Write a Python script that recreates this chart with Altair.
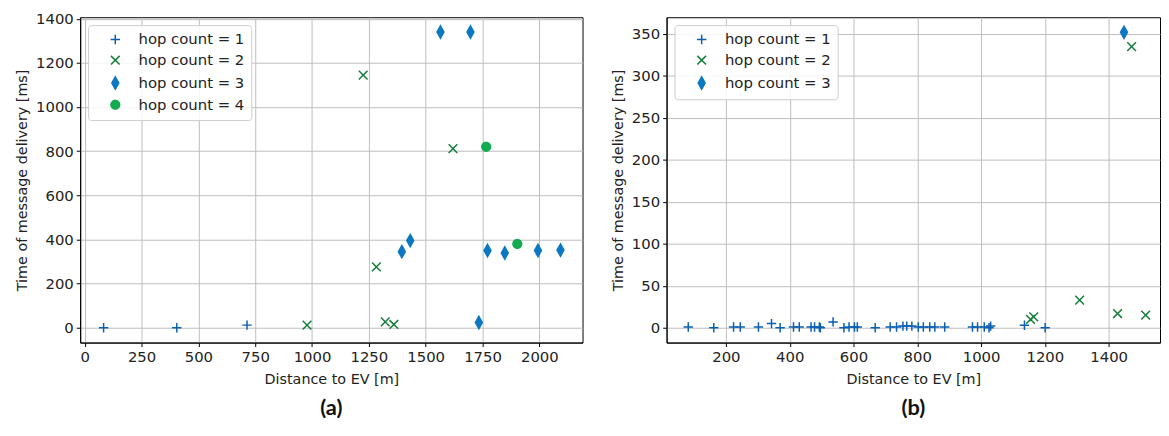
import math
import altair as alt
import pandas as pd

# ---------------- data ----------------
# Panel (a)
a_h1_x = [83, 405, 714]
a_h1_y = [0, 0, 12]
a_h2_x = [978, 1225, 1283, 1322, 1360, 1620]
a_h2_y = [12, 1145, 276, 27, 15, 812]
a_h3_x = [1395, 1432, 1565, 1697, 1734, 1772, 1848, 1994, 2093]
a_h3_y = [345, 395, 1340, 1340, 24, 350, 339, 350, 352]
a_h4_x = [1766, 1903]
a_h4_y = [820, 380]

# Panel (b)
b_h1_x = [82, 162, 224, 245, 302, 343, 370, 412, 430, 467, 478, 493, 496, 536,
          570, 586, 603, 612, 668, 715, 735, 755, 767, 783, 803, 819, 839, 855,
          886, 973, 989, 1010, 1025, 1030, 1136, 1201]
b_h1_y = [1, 0, 1, 1, 1, 5, 0, 1, 1, 1, 1, 1, 0, 7, 0, 1, 1, 1, 0, 1, 1, 2, 2, 2,
          1, 1, 1, 1, 1, 1, 1, 1, 0, 2, 3, 0]
b_h2_x = [1155, 1165, 1309, 1428, 1472, 1516]
b_h2_y = [10, 13, 33, 17, 335, 15]
b_h3_x = [1448]
b_h3_y = [352]

a_xticks = [0, 250, 500, 750, 1000, 1250, 1500, 1750, 2000]
a_yticks = [0, 200, 400, 600, 800, 1000, 1200, 1400]
b_xticks = [200, 400, 600, 800, 1000, 1200, 1400]
b_yticks = [0, 50, 100, 150, 200, 250, 300, 350]


def frame(series):
    rows = []
    for hop, xs, ys in series:
        for x, y in zip(xs, ys):
            rows.append({"hop": hop, "dist": x, "time": y})
    return pd.DataFrame(rows)


df_a = frame([("1", a_h1_x, a_h1_y), ("2", a_h2_x, a_h2_y),
              ("3", a_h3_x, a_h3_y), ("4", a_h4_x, a_h4_y)])
df_b = frame([("1", b_h1_x, b_h1_y), ("2", b_h2_x, b_h2_y), ("3", b_h3_x, b_h3_y)])

# ---------------- styles ----------------
STROKES = ["#0a5fb4", "#147d3a", "#0b78c1", "#13ab50"]
FILLS = ["transparent", "transparent", "#0b78c1", "#13ab50"]
PLUS = "M-0.95,0L0.95,0M0,-0.95L0,0.95"
XMARK = "M-0.88,-0.88L0.88,0.88M-0.88,0.88L0.88,-0.88"
DIAMOND = "M0,-1.25L0.7,0L0,1.25L-0.7,0Z"
_r = 0.88
CIRCLE = "M" + "L".join(
    f"{_r * math.cos(2 * math.pi * k / 32):.3f},{_r * math.sin(2 * math.pi * k / 32):.3f}"
    for k in range(32)) + "Z"
SHAPES = [PLUS, XMARK, DIAMOND, CIRCLE]

FONT = "DejaVu Sans"


def panel(df, cats, xdom, ydom, xticks, yticks, caption, w, h):
    n = len(cats)
    leg = alt.Legend(
        title=None,
        orient="top-left",
        offset=8,
        labelExpr="'hop count = ' + datum.label",
        labelFont=FONT,
        labelFontSize=15,
        labelColor="#222",
        labelOffset=16,
        symbolOffset=13,
        symbolSize=100,
        symbolStrokeWidth=1.5,
        rowPadding=5,
        padding=7,
        fillColor="rgba(255,255,255,0.85)",
        strokeColor="#cccccc",
        cornerRadius=3,
    )
    return alt.Chart(df).mark_point(
        opacity=1, strokeWidth=1.5, size=100, filled=False
    ).encode(
        x=alt.X("dist:Q",
                scale=alt.Scale(domain=xdom, nice=False, zero=False),
                axis=alt.Axis(values=xticks, format="d", title="Distance to EV [m]",
                              titlePadding=8)),
        y=alt.Y("time:Q",
                scale=alt.Scale(domain=ydom, nice=False, zero=False),
                axis=alt.Axis(values=yticks, format="d", title="Time of message delivery [ms]",
                              titlePadding=6)),
        stroke=alt.Stroke("hop:N", scale=alt.Scale(domain=cats, range=STROKES[:n]), legend=leg),
        fill=alt.Fill("hop:N", scale=alt.Scale(domain=cats, range=FILLS[:n]), legend=leg),
        shape=alt.Shape("hop:N", scale=alt.Scale(domain=cats, range=SHAPES[:n]), legend=leg),
    ).properties(
        width=w,
        height=h,
        title=alt.TitleParams(caption, orient="bottom", font="Lato", fontSize=22,
                              fontWeight="bold", color="#111", offset=13),
    )


left = panel(df_a, ["1", "2", "3", "4"], [-20, 2190], [-67, 1407],
             a_xticks, a_yticks, "(a)", 508, 329)
right = panel(df_b, ["1", "2", "3"], [14, 1561], [-17.6, 370],
              b_xticks, b_yticks, "(b)", 499, 329)

chart = alt.hconcat(left, right, spacing=26).resolve_scale(
    stroke="independent", fill="independent", shape="independent"
).resolve_legend(
    stroke="independent", fill="independent", shape="independent"
).configure_view(
    stroke="black", strokeWidth=1
).configure_axis(
    labelFont=FONT, labelFontSize=15, labelColor="#222",
    titleFont=FONT, titleFontSize=14.5, titleColor="#222", titleFontWeight="normal",
    domainColor="black", tickColor="black", tickSize=4,
    gridColor="#bdbdbd", gridWidth=1, grid=True,
    labelPadding=3,
).properties(
    padding={"left": 6, "top": 1, "right": 0, "bottom": 0}
)

chart.save("out.html", embed_options={"renderer": "svg", "actions": False})
